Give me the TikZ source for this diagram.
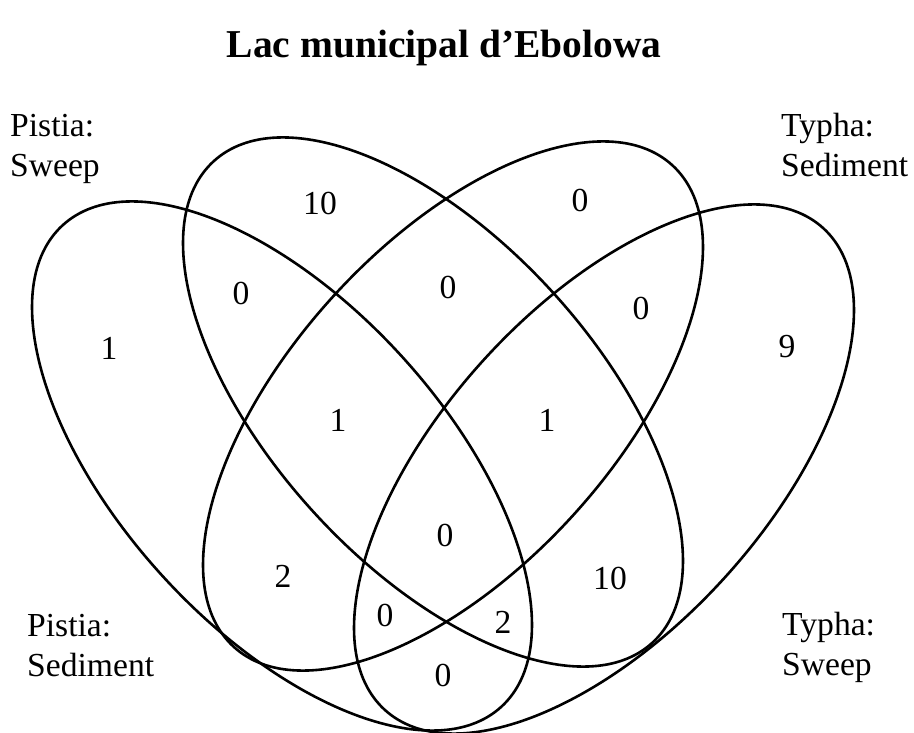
\documentclass[tikz,border=0pt]{standalone}
\usepackage{fontspec}
\setmainfont{Liberation Serif}
\begin{document}
\begin{tikzpicture}[x=1pt,y=-1pt,
  venn/.style={draw=black, line width=2.6pt},
  num/.style={font=\fontsize{33.6}{40}\selectfont, inner sep=0pt, anchor=center},
  lbl/.style={font=\fontsize{33.6}{40}\selectfont, inner sep=0pt, anchor=base west},
  ttl/.style={font=\fontsize{39.5}{47}\selectfont\bfseries, inner sep=0pt, anchor=base}]
\useasboundingbox (0,0) rectangle (914,733);
% ellipses
\draw[venn, rotate around={-47.7:(282,466)}] (282,466) ellipse [x radius=325.7pt, y radius=162.4pt];
\draw[venn, rotate around={-47.7:(433,402)}] (433,402) ellipse [x radius=325.7pt, y radius=162.4pt];
\draw[venn, rotate around={47.7:(453,406)}] (453,406) ellipse [x radius=325.7pt, y radius=162.4pt];
\draw[venn, rotate around={47.7:(604,469)}] (604,469) ellipse [x radius=325.7pt, y radius=162.4pt];
% title
\node[ttl] (title) at (444,58) {Lac municipal d’Ebolowa};
% labels
\node[lbl] (la1) at (10,137) {Pistia:};
\node[lbl] (la2) at (10,177) {Sweep};
\node[lbl] (lb1) at (781,137) {Typha:};
\node[lbl] (lb2) at (781,177) {Sediment};
\node[lbl] (lc1) at (27,636) {Pistia:};
\node[lbl] (lc2) at (27,676) {Sediment};
\node[lbl] (ld1) at (782,635) {Typha:};
\node[lbl] (ld2) at (782,675) {Sweep};
% numbers
\node[num] (n1) at (320,203) {10};
\node[num] (n2) at (580,200) {0};
\node[num] (n3) at (241,293) {0};
\node[num] (n4) at (448,287) {0};
\node[num] (n5) at (641,308) {0};
\node[num] (n6) at (109,348) {1};
\node[num] (n7) at (787,347) {9};
\node[num] (n8) at (338,420) {1};
\node[num] (n9) at (547,420) {1};
\node[num] (n10) at (445,535) {0};
\node[num] (n11) at (283,576) {2};
\node[num] (n12) at (610,578) {10};
\node[num] (n13) at (385,615) {0};
\node[num] (n14) at (503,622) {2};
\node[num] (n15) at (443,675) {0};
\end{tikzpicture}
\end{document}
